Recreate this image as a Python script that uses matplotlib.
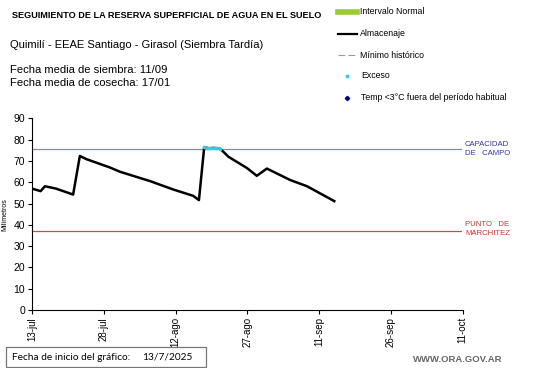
import matplotlib
matplotlib.use("Agg")
import matplotlib.pyplot as plt
from matplotlib.lines import Line2D
from matplotlib.patches import Rectangle

plt.rcParams['font.family'] = ['Liberation Sans', 'DejaVu Sans']

# Data (day offset from 13-jul-2025, mm)
almac_days = [0, 1.8, 2.7, 5, 8.6, 10, 11.4, 16.3, 18.4, 24.7, 29.5, 33.7, 34.9, 36, 37, 38, 39.3, 41.1, 44.9, 47, 49.1, 54, 57.5, 63.2]
almac_vals = [57.0, 55.8, 58.1, 57.0, 54.2, 72.3, 70.8, 66.9, 64.9, 60.5, 56.6, 53.6, 51.6, 76.4, 75.9, 76.1, 75.8, 71.9, 66.7, 63.0, 66.4, 61.0, 58.1, 51.1]
exceso_days = [36, 36.5, 37, 37.5, 38, 38.5, 39, 39.3]
exceso_vals = [76.4, 76.2, 75.9, 76.0, 76.1, 76.0, 75.9, 75.8]
capacidad_campo = 75.8
punto_marchitez = 37.2
xtick_days = [0, 15, 30, 45, 60, 75, 90]
xtick_labels = ['13-jul', '28-jul', '12-ago', '27-ago', '11-sep', '26-sep', '11-oct']
yticks = [0, 10, 20, 30, 40, 50, 60, 70, 80, 90]

W, H = 541, 368
fig = plt.figure(figsize=(W/100, H/100), dpi=100)
ax = fig.add_axes([32/W, 1-310/H, (462.5-32)/W, (310-118.3)/H])

ax.axhline(capacidad_campo, color='#5B9BD5', lw=0.9)
ax.axhline(punto_marchitez, color='#C0504D', lw=0.9)
ax.plot(almac_days, almac_vals, color='black', lw=1.8, solid_joinstyle='round')
ax.plot(exceso_days, exceso_vals, color='#33CCEE', lw=0, marker='o', ms=1.6)

ax.set_xlim(0, 90)
ax.set_ylim(0, 90)
ax.set_xticks(xtick_days)
ax.set_xticklabels(xtick_labels, rotation=90, fontsize=7)
ax.set_yticks(yticks)
ax.tick_params(axis='y', labelsize=7.5, length=3, width=0.8, pad=2)
ax.tick_params(axis='x', length=3, width=0.8, pad=2)
for s in ['top', 'right']:
    ax.spines[s].set_visible(False)
for s in ['left', 'bottom']:
    ax.spines[s].set_linewidth(0.8)
ax.set_ylabel('Milímetros', fontsize=5, labelpad=4)

# Right labels
fig.text(465/W, 1-149/H, 'CAPACIDAD\nDE   CAMPO', color='#3333AA', fontsize=5.6, va='center', ha='left', linespacing=1.3)
fig.text(465/W, 1-229/H, 'PUNTO   DE\nMARCHITEZ', color='#CC3333', fontsize=5.6, va='center', ha='left', linespacing=1.3)

# Titles
fig.text(12/W, 1-15/H, 'SEGUIMIENTO DE LA RESERVA SUPERFICIAL DE AGUA EN EL SUELO', fontsize=6.6, fontweight='bold', va='center')
fig.text(10/W, 1-45/H, 'Quimilí - EEAE Santiago - Girasol (Siembra Tardía)', fontsize=8.0, va='center')
fig.text(10/W, 1-70/H, 'Fecha media de siembra: 11/09', fontsize=8.1, va='center')
fig.text(10/W, 1-83/H, 'Fecha media de cosecha: 17/01', fontsize=8.1, va='center')

# Legend (manual)
lx0, lx1, tx = 338, 357, 360
fs = 6.3
fig.add_artist(Line2D([lx0/W, lx1/W], [1-12/H, 1-12/H], color='#99CC33', lw=4))
fig.text(tx/W, 1-12/H, 'Intervalo Normal', fontsize=fs, va='center')
fig.add_artist(Line2D([lx0/W, lx1/W], [1-34/H, 1-34/H], color='black', lw=1.6))
fig.text(tx/W, 1-34/H, 'Almacenaje', fontsize=fs, va='center')
fig.add_artist(Line2D([lx0/W, lx1/W], [1-55/H, 1-55/H], color='#999999', lw=0.8, dashes=(6, 3)))
fig.text(tx/W, 1-55/H, 'Mínimo histórico', fontsize=fs, va='center')
fig.add_artist(Line2D([347/W], [1-76/H], color='#33CCEE', marker='o', ms=1.8, lw=0))
fig.text(361/W, 1-76/H, 'Exceso', fontsize=fs, va='center')
fig.add_artist(Line2D([347/W], [1-98/H], color='#000080', marker='D', ms=2.2, lw=0))
fig.text(361/W, 1-98/H, 'Temp <3°C fuera del período habitual', fontsize=fs, va='center')

# Bottom box
fig.add_artist(Rectangle((6/W, 1-366.5/H), 200/W, 19.5/H, transform=fig.transFigure,
                         fc='white', ec='#777777', lw=0.9))
fig.text(12/W, 1-357/H, 'Fecha de inicio del gráfico:', fontsize=7.3, va='center', family=['Lato', 'DejaVu Sans'])
fig.text(142/W, 1-357/H, '13/7/2025', fontsize=7.3, va='center', family=['Lato', 'DejaVu Sans'])
fig.text(413/W, 1-360/H, 'WWW.ORA.GOV.AR', fontsize=6.8, color='#666666', fontweight='bold', va='center')

fig.savefig('out.png', dpi=100)
